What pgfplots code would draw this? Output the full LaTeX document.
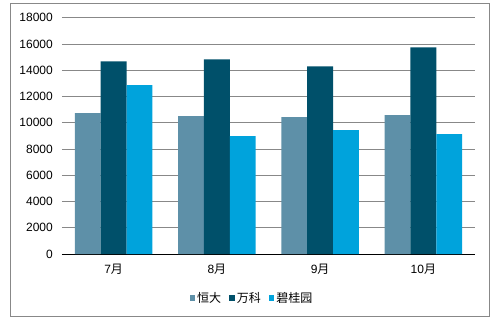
\documentclass[border=0pt]{standalone}
\usepackage{fontspec}
\setmainfont{Liberation Sans}
\newfontfamily\cjk{Noto Sans CJK SC}
\usepackage{pgfplots}
\pgfplotsset{compat=1.18}
\definecolor{hengda}{HTML}{5E90A8}
\definecolor{wanke}{HTML}{00506A}
\definecolor{bgy}{HTML}{00A3DC}
\definecolor{gridc}{HTML}{888888}
\begin{document}
\fontsize{12pt}{14pt}\selectfont
\begin{tikzpicture}[x=1pt,y=1pt]
\path[use as bounding box] (-62,-68) rectangle (437,254);
\draw[gridc, line width=0.9pt] (-52,-62) rectangle (427,251);
\begin{axis}[
  at={(0,0)}, anchor=south west,
  scale only axis, width=413pt, height=236.3pt,
  ybar=0pt, bar width=0.25,
  xmin=-0.5, xmax=3.5, ymin=0, ymax=18000,
  xtick=data, xticklabels={7{\cjk 月},8{\cjk 月},9{\cjk 月},10{\cjk 月}},
  ytick={0,2000,...,18000},
  /pgf/number format/assume math mode=true,
  /pgf/number format/fixed,
  /pgf/number format/1000 sep={},
  scaled y ticks=false,
  ymajorgrids, grid style={gridc, line width=0.8pt},
  major tick length=0pt,
  axis x line*=bottom, axis y line*=left,
  y axis line style={draw=none},
  x axis line style={black, line width=0.9pt, -},
  xticklabel style={yshift=-6pt, font=\fontsize{12pt}{14pt}\selectfont},
  yticklabel style={xshift=-5pt, font=\fontsize{12pt}{14pt}\selectfont},
  legend style={at={(0.46,-0.186)}, anchor=center, draw=none, legend columns=-1,
    font=\fontsize{12pt}{14pt}\selectfont, /tikz/every even column/.append style={column sep=6pt}},
  legend image code/.code={\fill[#1] (0pt,-2.8pt) rectangle (5.6pt,2.8pt);},
  legend cell align=left,
]
\addplot[fill=hengda, draw=none] coordinates {(0,10730) (1,10500) (2,10430) (3,10570)};
\addplot[fill=wanke, draw=none] coordinates {(0,14680) (1,14830) (2,14300) (3,15740)};
\addplot[fill=bgy, draw=none] coordinates {(0,12860) (1,8980) (2,9440) (3,9130)};
\legend{{\cjk 恒大},{\cjk 万科},{\cjk 碧桂园}}
\end{axis}
\end{tikzpicture}
\end{document}
